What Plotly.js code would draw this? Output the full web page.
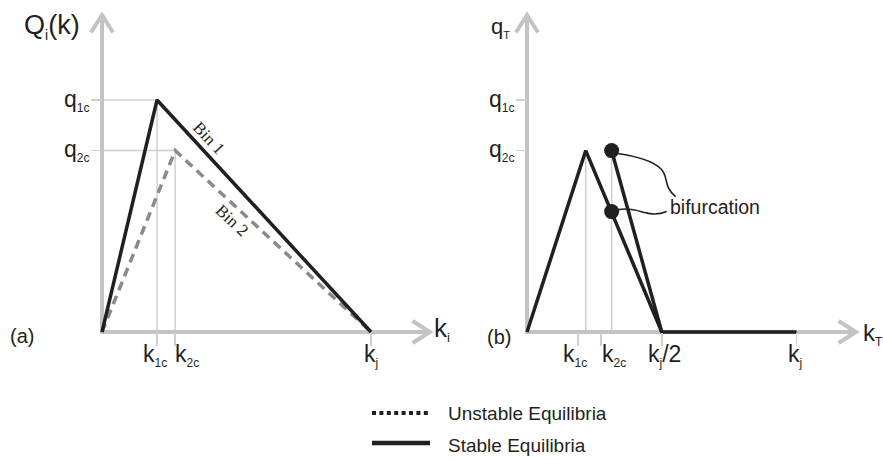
<!DOCTYPE html>
<html>
<head>
<meta charset="utf-8">
<script src="https://cdn.plot.ly/plotly-3.0.1.min.js"></script>
<style>html,body{margin:0;padding:0;background:#fff;}</style>
</head>
<body>
<div id="chart" style="width:883px;height:460px;"></div>
<script>
// ---------- data (k in units of k_j, q in units of q_1c) ----------
// (a) flow-density curves of the two bins
const bin1K = [0, 0.2045, 1];
const bin1Q = [0, 1, 0];
const bin2K = [0, 0.272, 1];
const bin2Q = [0, 0.782, 0];
// (b) total flow vs total density
const totalK = [0, 0.218, 0.5, 1];
const totalQ = [0, 0.782, 0, 0];
const branchK = [0.314, 0.5];
const branchQ = [0.782, 0];
const bifK = [0.314, 0.314];
const bifQ = [0.782, 0.519];
// reference levels
const qTickVals = [1, 0.782];
const qTickText = ['q<sub>1c</sub>', 'q<sub>2c</sub>'];
const kTickValsA = [0.2045, 0.272, 1];
const kTickTextA = ['k<sub>1c</sub>', 'k<sub>2c</sub>', 'k<sub>j</sub>'];
const kTickValsB = [0.189, 0.274, 0.5, 1];
const kTickTextB = ['k<sub>1c</sub>', 'k<sub>2c</sub>', 'k<sub>j</sub>/2', 'k<sub>j</sub>'];
const guideKB = [0.218, 0.314];   // verticals in (b) down from q2c

// ---------- frame geometry (pixels) ----------
const W = 883, H = 460;
const FA = {ox: 102, sx: 269};     // panel (a): px = ox + k*sx
const FB = {ox: 527, sx: 269.5};   // panel (b)
const FY = {oy: 332, sy: 232};     // both panels: py = oy - q*sy
const kToPx = (f, k) => f.ox + k * f.sx;
const pxToK = (f, p) => (p - f.ox) / f.sx;
const qToPx = q => FY.oy - q * FY.sy;
const pxToQ = p => (FY.oy - p) / FY.sy;

const xRangeA = [pxToK(FA, 0), pxToK(FA, W / 2)];
const xRangeB = [pxToK(FB, W / 2), pxToK(FB, W)];
const yRange = [pxToQ(H), pxToQ(0)];

const INK = '#231f20';
const AXIS_GRAY = '#c3c3c5';
const GUIDE_GRAY = '#cfcfd1';
const DASH_GRAY = '#8a8a8c';
const FONT = '"Liberation Sans", Arial, Helvetica, sans-serif';
const SERIF = '"Liberation Serif", "Times New Roman", serif';

// small subscripts, as in the printed figure
const smallSub = (s, px) => s.replace(/<sub>(.*?)<\/sub>/g,
  `<sub><span style="font-size:${px}px">$1</span></sub>`);

// ---------- traces ----------
const traces = [
  {x: bin2K, y: bin2Q, xaxis: 'x', yaxis: 'y', mode: 'lines',
   line: {color: DASH_GRAY, width: 3.5, dash: '9px,6px'}},
  {x: bin1K, y: bin1Q, xaxis: 'x', yaxis: 'y', mode: 'lines',
   line: {color: INK, width: 3.5}},
  {x: totalK, y: totalQ, xaxis: 'x2', yaxis: 'y2', mode: 'lines',
   line: {color: INK, width: 3.5}},
  {x: branchK, y: branchQ, xaxis: 'x2', yaxis: 'y2', mode: 'lines',
   line: {color: INK, width: 3.5}},
  {x: bifK, y: bifQ, xaxis: 'x2', yaxis: 'y2', mode: 'markers',
   marker: {color: INK, size: 15}}
];

// ---------- shapes ----------
const shapes = [];
function seg(xref, yref, x0, y0, x1, y1, color, width) {
  shapes.push({type: 'line', xref, yref, x0, y0, x1, y1, layer: 'below',
               line: {color, width}});
}
// guide lines in (a)
for (let i = 0; i < 2; i++) {
  seg('x', 'y', 0, qTickVals[i], kTickValsA[i], qTickVals[i], GUIDE_GRAY, 1.5);
  seg('x', 'y', kTickValsA[i], qTickVals[i], kTickValsA[i], 0, GUIDE_GRAY, 1.5);
}
// guide lines in (b)
guideKB.forEach(k => seg('x2', 'y2', k, qTickVals[1], k, 0, GUIDE_GRAY, 1.5));

// axes with open arrow heads
function arrowAxes(f, xref, yref, xTipPx) {
  const yTipPx = 15, back = 17.5, half = 11;
  const x0 = pxToK(f, f.ox - 2), xt = pxToK(f, xTipPx);
  const y0 = pxToQ(FY.oy + 2), yt = pxToQ(yTipPx);
  seg(xref, yref, x0, 0, xt, 0, AXIS_GRAY, 4);
  seg(xref, yref, 0, y0, 0, yt, AXIS_GRAY, 4);
  const xb = pxToK(f, xTipPx - back);
  shapes.push({type: 'path', xref, yref, layer: 'below', line: {color: AXIS_GRAY, width: 4},
    path: `M${xb},${pxToQ(FY.oy - half)} L${xt},0 L${xb},${pxToQ(FY.oy + half)}`});
  const yb = pxToQ(yTipPx + back);
  shapes.push({type: 'path', xref, yref, layer: 'below', line: {color: AXIS_GRAY, width: 4},
    path: `M${pxToK(f, f.ox - half)},${yb} L0,${yt} L${pxToK(f, f.ox + half)},${yb}`});
}
arrowAxes(FA, 'x', 'y', 430);
arrowAxes(FB, 'x2', 'y2', 856);

// leader curves from the bifurcation points to their label
function leader(k, q, offsets) {
  const mx = kToPx(FB, k), my = qToPx(q);
  const pt = ([dx, dy]) => `${pxToK(FB, mx + dx)},${pxToQ(my + dy)}`;
  const p = 'M' + pt(offsets[0]) + ' C' + offsets.slice(1, 4).map(pt).join(' ') +
            ' C' + offsets.slice(4, 7).map(pt).join(' ');
  shapes.push({type: 'path', xref: 'x2', yref: 'y2', layer: 'above',
               line: {color: INK, width: 1.6}, path: p});
}
leader(bifK[0], bifQ[0], [[6, 3], [26, 6], [46, 11], [52, 22], [56, 29], [53, 37], [64, 46]]);
leader(bifK[1], bifQ[1], [[7, -2], [18, -4], [26, -1], [33, 1], [40, 3], [48, 3], [55, 0]]);

// legend samples
shapes.push({type: 'line', xref: 'paper', yref: 'paper', x0: 372 / W, x1: 430 / W,
  y0: 1 - 413 / H, y1: 1 - 413 / H, line: {color: INK, width: 4, dash: '4px,3.4px'}});
shapes.push({type: 'line', xref: 'paper', yref: 'paper', x0: 372 / W, x1: 430 / W,
  y0: 1 - 443 / H, y1: 1 - 443 / H, line: {color: INK, width: 4.5}});

// ---------- text ----------
const annotations = [];
function paperText(text, xPx, yPx, size, xanchor) {
  annotations.push({text, xref: 'paper', yref: 'paper', x: xPx / W, y: 1 - yPx / H,
    xanchor: xanchor || 'center', yanchor: 'middle', showarrow: false,
    font: {family: FONT, size, color: INK}});
}
// tick labels on the k axes
const kShiftA = [-2, 12, 0];
const kShiftB = [-3, 13, 3, -2];
kTickValsA.forEach((k, i) => annotations.push({text: smallSub(kTickTextA[i], 12), xref: 'x', yref: 'y',
  x: k, y: 0, xanchor: 'center', yanchor: 'top', xshift: kShiftA[i], yshift: -7,
  showarrow: false, font: {family: FONT, size: 23, color: INK}}));
kTickValsB.forEach((k, i) => annotations.push({text: smallSub(kTickTextB[i], 12), xref: 'x2', yref: 'y2',
  x: k, y: 0, xanchor: 'center', yanchor: 'top', xshift: kShiftB[i], yshift: -7,
  showarrow: false, font: {family: FONT, size: 23, color: INK}}));
// tick labels on the q axes
[['x', 'y'], ['x2', 'y2']].forEach(([xr, yr]) => qTickVals.forEach((q, i) =>
  annotations.push({text: smallSub(qTickText[i], 12), xref: xr, yref: yr, x: 0, y: q,
    xanchor: 'right', yanchor: 'middle', xshift: -11, yshift: 0,
    showarrow: false, font: {family: FONT, size: 23, color: INK}})));

// axis names and panel tags
paperText(smallSub('Q<sub>i</sub>(k)', 14), 52, 26, 27);
paperText(smallSub('q<sub>T</sub>', 11), 500, 28, 22);
paperText(smallSub('k<sub>i</sub>', 13), 432, 329, 26, 'left');
paperText(smallSub('k<sub>T</sub>', 12), 861, 334, 24, 'left');
paperText('(a)', 21.5, 336, 20);
paperText('(b)', 499, 337, 20);

// bin labels along the curves of (a)
function binLabel(text, ks, qs, t, dx, dy, angle) {
  annotations.push({text, xref: 'x', yref: 'y',
    x: ks[1] + t * (ks[2] - ks[1]), y: qs[1] * (1 - t),
    xanchor: 'center', yanchor: 'middle', xshift: dx, yshift: dy, textangle: angle,
    showarrow: false, font: {family: SERIF, size: 17, color: INK}});
}
binLabel('Bin 1', bin1K, bin1Q, 0.215, 5, 12, 47);
binLabel('Bin 2', bin2K, bin2Q, 0.294, -1, -17, 43);

// bifurcation label
annotations.push({text: 'bifurcation', xref: 'x2', yref: 'y2', x: bifK[1], y: bifQ[1],
  xanchor: 'left', yanchor: 'middle', xshift: 56, yshift: 5, showarrow: false,
  font: {family: FONT, size: 19.5, color: INK}});

// legend text
paperText('Unstable Equilibria', 446, 413, 19, 'left');
paperText('Stable Equilibria', 446, 445, 19, 'left');

// ---------- axes ----------
function kAxis(domain, range, tickvals) {
  return {domain, range, anchor: 'free', position: 1 - FY.oy / H,
    showgrid: false, zeroline: false, showline: false, showticklabels: false,
    ticks: 'outside', ticklen: 13, tickwidth: 1.5, tickcolor: GUIDE_GRAY,
    tickmode: 'array', tickvals, fixedrange: true};
}
function qAxis(xPx) {
  return {domain: [0, 1], range: yRange, anchor: 'free', position: xPx / W,
    showgrid: false, zeroline: false, showline: false, showticklabels: false,
    ticks: 'outside', ticklen: 11, tickwidth: 1.5, tickcolor: GUIDE_GRAY,
    tickmode: 'array', tickvals: qTickVals, fixedrange: true};
}

const layout = {
  width: W, height: H,
  margin: {l: 0, r: 0, t: 0, b: 0, pad: 0},
  paper_bgcolor: '#ffffff', plot_bgcolor: 'rgba(0,0,0,0)',
  showlegend: false,
  xaxis: kAxis([0, 0.5], xRangeA, kTickValsA),
  yaxis: qAxis(FA.ox),
  xaxis2: kAxis([0.5, 1], xRangeB, kTickValsB),
  yaxis2: qAxis(FB.ox),
  shapes, annotations
};

Plotly.newPlot('chart', traces, layout, {staticPlot: true, displayModeBar: false});
</script>
</body>
</html>
